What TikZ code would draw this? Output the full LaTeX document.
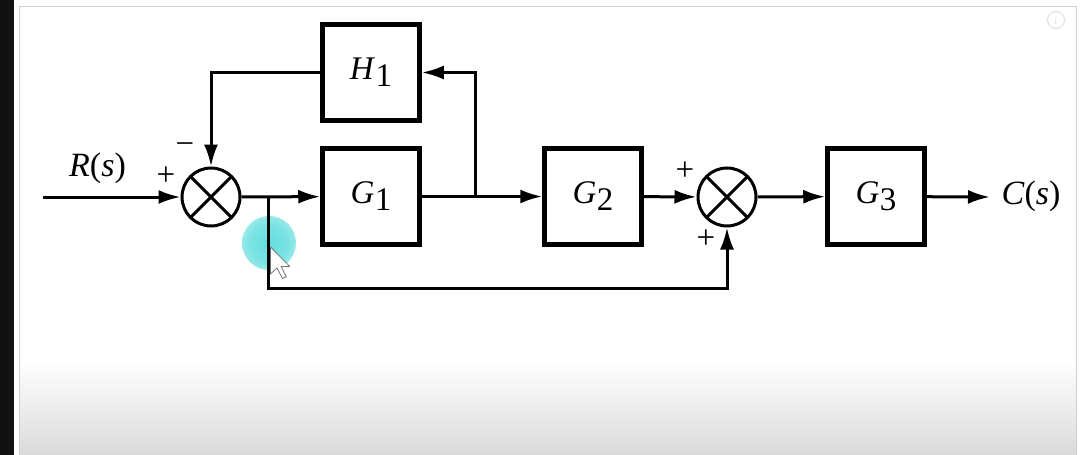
\documentclass[tikz,border=0pt]{standalone}
\usepackage{fontspec}
\setmainfont{Liberation Serif}
\usetikzlibrary{arrows.meta,calc}
\definecolor{blobc}{RGB}{100,222,222}
\definecolor{framec}{RGB}{210,210,210}
\definecolor{stripc}{RGB}{17,17,17}
\definecolor{bottomc}{RGB}{218,218,218}
\pgfdeclareradialshading{blobshade}{\pgfpoint{0bp}{0bp}}{color(0bp)=(blobc); color(18bp)=(blobc!85!white); color(50bp)=(white)}
\newcommand{\blocklab}[2]{\textit{#1}\kern0.5pt\raisebox{-7pt}{#2}}
\begin{document}
\begin{tikzpicture}[x=1pt,y=-1pt,
  blk/.style={draw,line width=4.5pt,minimum width=97pt,minimum height=96pt,inner sep=0pt,font=\fontsize{33}{36}\selectfont},
  sumnode/.style={draw,circle,line width=3pt,minimum size=58pt,inner sep=0pt,
    path picture={\draw[line width=3pt] (path picture bounding box.north west)--(path picture bounding box.south east)
      (path picture bounding box.north east)--(path picture bounding box.south west);}},
  sig/.style={line width=3pt,-{Latex[length=22pt,width=14pt]}},
  lbl/.style={font=\fontsize{34}{38}\selectfont,inner sep=0pt},
  sgn/.style={font=\fontsize{33}{36}\selectfont,inner sep=0pt}
]
\useasboundingbox (0,0) rectangle (1080,455);
% screenshot frame
\fill[white] (0,0) rectangle (1080,455);
\shade[top color=white,bottom color=bottomc] (20,360) rectangle (1076,455);
\fill[stripc] (0,0) rectangle (14,455);
\draw[framec,line width=1pt] (19.5,455) -- (19.5,6) -- (1076,6) -- (1076,455);
\draw[black!12,line width=1pt] (1056,20) circle (8.5);
\node[text=black!15,font=\sffamily\fontsize{11}{12}\selectfont,inner sep=0pt] (info) at (1056,20.5) {i};
% highlight blob
\shade[shading=blobshade] (269,243) circle (27);

% blocks
\node[blk] (h1) at (371,72.5) {\blocklab{H}{1}};
\node[blk] (g1) at (371,196.5) {\blocklab{G}{1}};
\node[blk] (g2) at (593,196.5) {\blocklab{G}{2}};
\node[blk] (g3) at (876,196.5) {\blocklab{G}{3}};
\node[sumnode] (s1) at (211,197) {};
\node[sumnode] (s2) at (727,197) {};

\coordinate (in) at (43,197);
\coordinate (b1) at (268,197);
\coordinate (b2) at (475,197);
\coordinate (fb) at (268,288);
\coordinate (out) at (990,197);

\draw[sig] (in) -- (s1);
\draw[sig] (s1) -- (g1);
\draw[sig] (g1) -- (g2);
\draw[sig] (b2) |- (h1);
\draw[sig] (h1) -| (s1);
\draw[sig] (g2) -- (s2);
\draw[sig] (s2) -- (g3);
\draw[sig] (g3) -- (out);
\draw[sig] (b1) -- (fb) -| (s2);

% labels
\node[lbl] (rs) at (97.5,168) {\textit{R}(\textit{s})};
\node[lbl] (cs) at (1031,196) {\textit{C}(\textit{s})};
\node[sgn] (p1) at (166,176) {+};
\node[sgn] (m1) at (185,149) {−};
\node[sgn] (p2) at (685,171) {+};
\node[sgn] (p3) at (706,239) {+};

% cursor
\draw[black!55,fill=white,line width=0.8pt,line join=round]
  (270.5,247) -- ++(0,27) -- ++(6.5,-6) -- ++(5.5,10.5) -- ++(3.8,-1.8) -- ++(-5.2,-10.2) -- ++(8.7,0) -- cycle;
\end{tikzpicture}
\end{document}
